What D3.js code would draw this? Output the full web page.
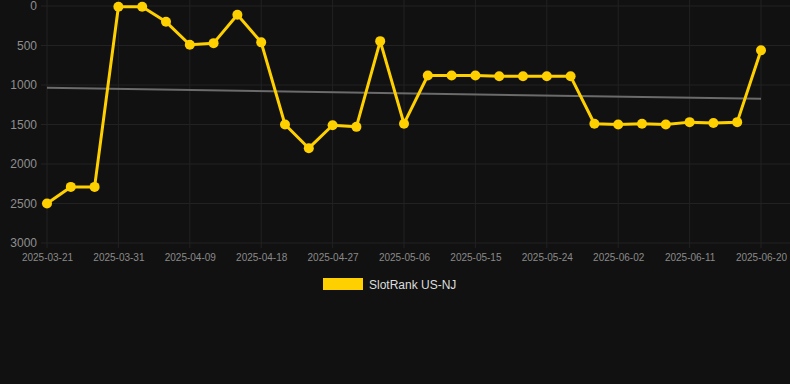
<!DOCTYPE html>
<html>
<head>
<meta charset="utf-8">
<script src="https://cdn.jsdelivr.net/npm/d3@7/dist/d3.min.js"></script>
<style>
  html, body { margin: 0; padding: 0; background: #111111; }
  svg { display: block; }
</style>
</head>
<body>
<svg id="chart" width="790" height="384"></svg>
<script>
// ---- data ----
const dates = [
  "2025-03-21","2025-03-24","2025-03-27","2025-03-31","2025-04-03","2025-04-06",
  "2025-04-09","2025-04-12","2025-04-15","2025-04-18","2025-04-21","2025-04-24",
  "2025-04-27","2025-04-30","2025-05-03","2025-05-06","2025-05-09","2025-05-12",
  "2025-05-15","2025-05-18","2025-05-21","2025-05-24","2025-05-27","2025-05-30",
  "2025-06-02","2025-06-05","2025-06-08","2025-06-11","2025-06-14","2025-06-17",
  "2025-06-20"
];
const ranks = [
  2500, 2290, 2290, 10, 10, 200,
  490, 470, 110, 460, 1500, 1800,
  1510, 1530, 445, 1490, 880, 880,
  880, 890, 890, 890, 890, 1490,
  1500, 1490, 1500, 1470, 1480, 1470,
  560
];
const xTickLabels = ["2025-03-21","2025-03-31","2025-04-09","2025-04-18","2025-04-27",
  "2025-05-06","2025-05-15","2025-05-24","2025-06-02","2025-06-11","2025-06-20"];
const yTicks = [0, 500, 1000, 1500, 2000, 2500, 3000];
const seriesName = "SlotRank US-NJ";

// ---- chart ----
const svg = d3.select("#chart");
const x = d3.scalePoint().domain(dates).range([47, 761]).padding(0);
const y = d3.scaleLinear().domain([0, 3000]).range([6, 243]);

const gridColor = "#222222";
const font = "'Liberation Sans', Arial, sans-serif";

// horizontal grid
svg.append("g").selectAll("line").data(yTicks).join("line")
  .attr("x1", 41).attr("x2", 790)
  .attr("y1", d => y(d)).attr("y2", d => y(d))
  .attr("stroke", gridColor).attr("stroke-width", 1);

// vertical grid
svg.append("g").selectAll("line").data(xTickLabels).join("line")
  .attr("x1", d => x(d)).attr("x2", d => x(d))
  .attr("y1", 0).attr("y2", 248)
  .attr("stroke", gridColor).attr("stroke-width", 1);

// y axis labels
const yAxis = d3.axisLeft(y).tickValues(yTicks).tickFormat(d3.format("d")).tickSize(0).tickPadding(0);
const gy = svg.append("g").attr("transform", "translate(37,0)").call(yAxis);
gy.select(".domain").remove();
gy.selectAll("text").attr("fill", "#8f8f8f").style("font-family", font).style("font-size", "12px");

// x axis labels
const xAxis = d3.axisBottom(x).tickValues(xTickLabels).tickSize(0).tickPadding(0);
const gx = svg.append("g").attr("transform", "translate(0,254)").call(xAxis);
gx.select(".domain").remove();
gx.selectAll("text").attr("fill", "#8a8a8a").style("font-family", font).style("font-size", "10px");

// trend line (least squares over index)
const n = ranks.length;
const idx = d3.range(n);
const mx = d3.mean(idx), my = d3.mean(ranks);
const slope = d3.sum(idx, i => (i - mx) * (ranks[i] - my)) / d3.sum(idx, i => (i - mx) ** 2);
const icpt = my - slope * mx;
svg.append("line")
  .attr("x1", x(dates[0])).attr("y1", y(icpt))
  .attr("x2", x(dates[n - 1])).attr("y2", y(icpt + slope * (n - 1)))
  .attr("stroke", "#6b6b6b").attr("stroke-width", 2);

// series line
const line = d3.line().x((d, i) => x(dates[i])).y(d => y(d));
svg.append("path").datum(ranks)
  .attr("d", line).attr("fill", "none")
  .attr("stroke", "#FFD000").attr("stroke-width", 3).attr("stroke-linejoin", "round");

svg.append("g").selectAll("circle").data(ranks).join("circle")
  .attr("cx", (d, i) => x(dates[i])).attr("cy", d => y(d))
  .attr("r", 5).attr("fill", "#FFD000");

// legend
const lg = svg.append("g");
lg.append("rect").attr("x", 323).attr("y", 278).attr("width", 40).attr("height", 12).attr("fill", "#FFD000");
lg.append("text").attr("x", 369).attr("y", 288.5).text(seriesName)
  .attr("fill", "#dddddd").style("font-family", font).style("font-size", "12px");
</script>
</body>
</html>
